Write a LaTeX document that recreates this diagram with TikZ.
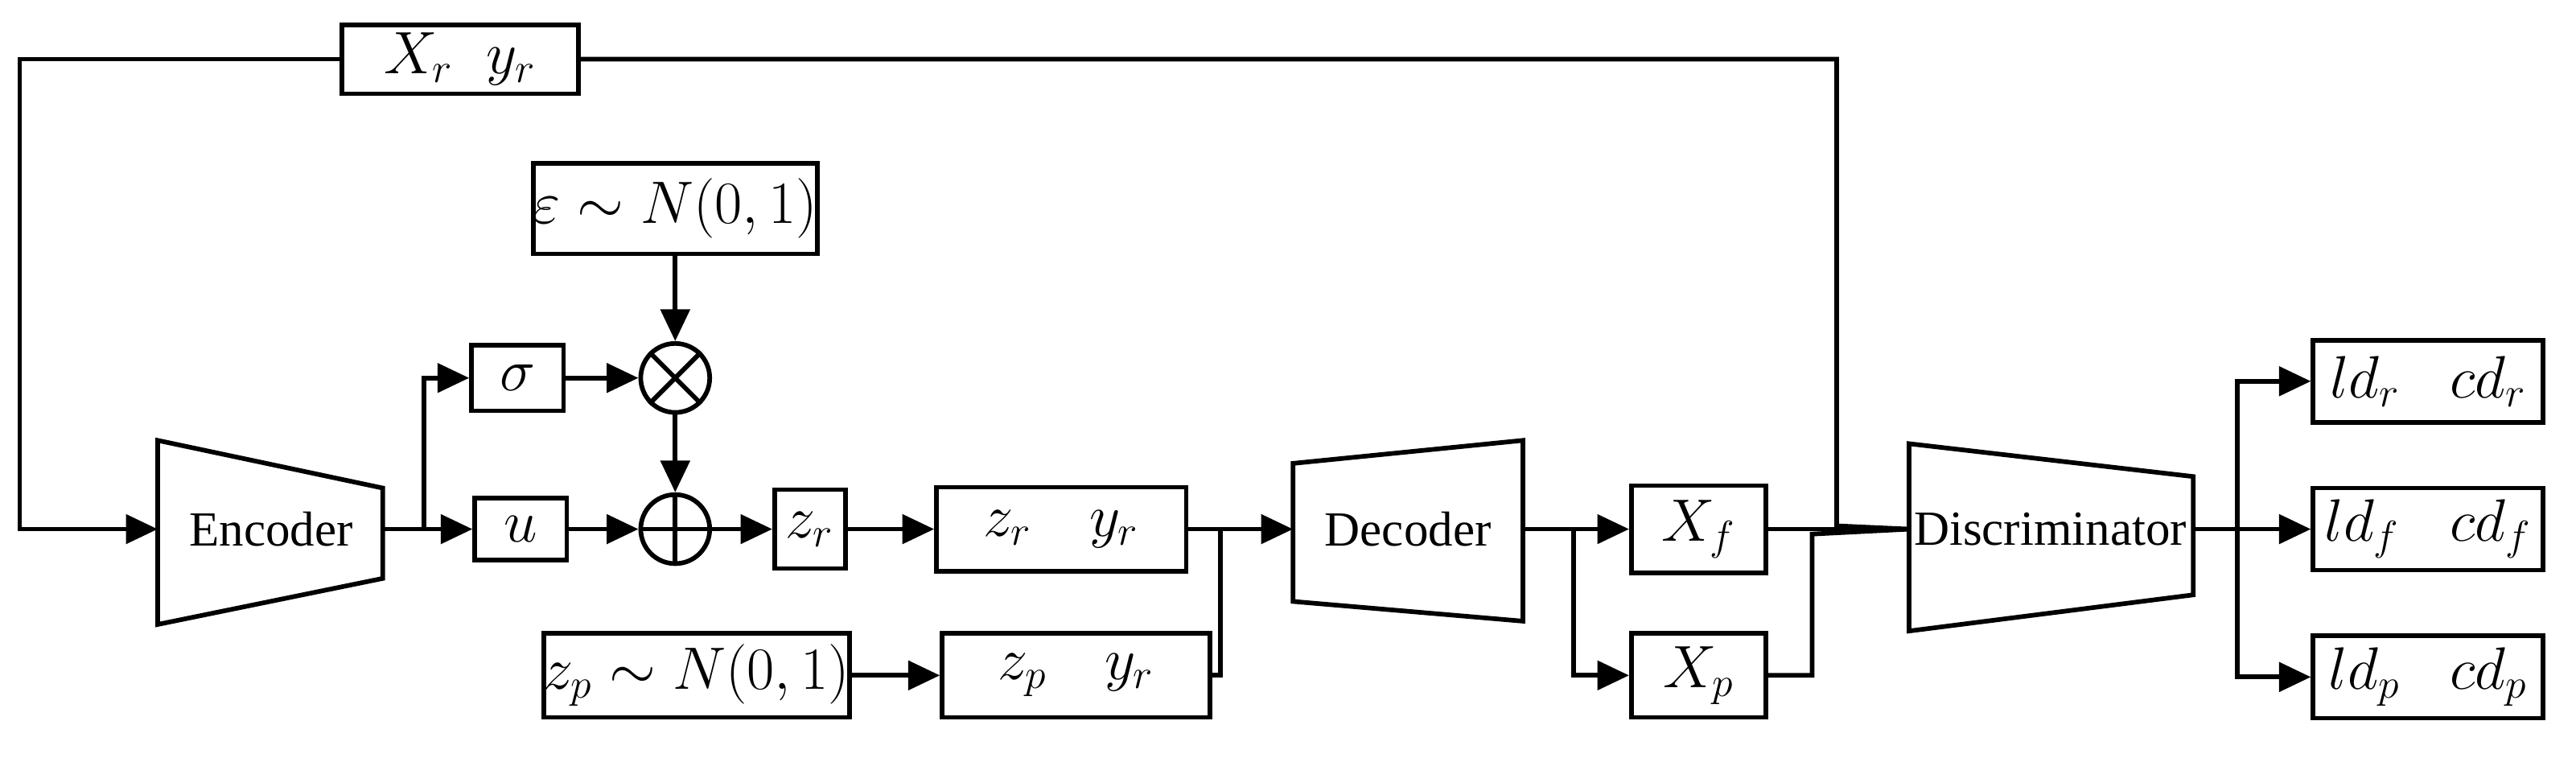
\documentclass[tikz,border=0pt]{standalone}
\usepackage{fontspec}
\newfontfamily\tms{Liberation Serif}
\usetikzlibrary{arrows.meta}
\begin{document}
\begin{tikzpicture}[x=0.02cm,y=-0.02cm,line width=1.6pt,
  box/.style={draw,inner sep=0pt,font=\fontsize{20}{24}\selectfont},
  lbl/.style={font=\tms\fontsize{17}{20}\selectfont},
  arr/.style={-{Triangle[length=11pt,width=10pt]}},
  op/.style={draw,circle,minimum size=0.84cm,inner sep=0pt}]
\useasboundingbox (0,0) rectangle (1568,461);
\node[box,minimum width=2.88cm,minimum height=0.84cm] (xy) at (280,36) {$X_r\;\;y_r$};
\node[box,minimum width=1.12cm,minimum height=0.8cm] (sig) at (315,230) {$\sigma$};
\node[box,minimum width=1.12cm,minimum height=0.76cm] (u) at (317,322) {$u$};
\node[box,minimum width=3.16cm,minimum height=1.1cm] (eps) at (411,127) {$\varepsilon\sim N(0,1)$};
\node[op] (mul) at (411,230) {};
\draw (mul.north west)--(mul.south east) (mul.north east)--(mul.south west);
\node[op] (add) at (411,322) {};
\draw (add.north)--(add.south) (add.west)--(add.east);
\node[box,minimum width=0.86cm,minimum height=0.96cm] (zr) at (493,322) {$z_r$};
\node[box,minimum width=3.04cm,minimum height=1.02cm] (zry) at (646,322) {$z_r\quad y_r$};
\node[box,minimum width=3.72cm,minimum height=1.02cm] (zpn) at (424,411) {$z_p\sim N(0,1)$};
\node[box,minimum width=3.26cm,minimum height=1.02cm] (zpy) at (655,411) {$z_p\quad y_r$};
\node[box,minimum width=1.64cm,minimum height=1.06cm] (xf) at (1034,322) {$X_f$};
\node[box,minimum width=1.64cm,minimum height=1.02cm] (xp) at (1034,411) {$X_p$};
\node[box,minimum width=2.8cm,minimum height=1.0cm] (ldr) at (1478,232) {$ld_r\;\;\;cd_r$};
\node[box,minimum width=2.8cm,minimum height=1.0cm] (ldf) at (1478,322) {$ld_f\;\;\;cd_f$};
\node[box,minimum width=2.8cm,minimum height=1.0cm] (ldp) at (1478,412) {$ld_p\;\;\;cd_p$};
% trapezoids
\draw (96,268)--(233,297)--(233,352)--(96,380)--cycle;
\node[lbl] (enc) at (165,322) {Encoder};
\coordinate (encin) at (96,322); \coordinate (encout) at (233,322);
\draw (787,282)--(927,268)--(927,378)--(787,366)--cycle;
\node[lbl] (dec) at (857,322) {Decoder};
\coordinate (decin) at (787,322); \coordinate (decout) at (927,322);
\draw (1162,270)--(1335,290)--(1335,362)--(1162,384)--cycle;
\node[lbl] (dis) at (1248,322) {Discriminator};
\coordinate (disin) at (1162,322); \coordinate (disout) at (1335,322);
% connectors
\coordinate (c1) at (12,36); \coordinate (c2) at (1118,36);
\draw[arr] (xy.west)--(c1)--(c1|-encin)--(encin);
\draw (xy.east)--(c2)--(1118,320)--(disin);
\coordinate (s1) at (258,322);
\draw[arr] (encout)--(s1)|-(sig.west);
\draw[arr] (s1)--(u.west);
\draw[arr] (sig)--(mul);
\draw[arr] (eps)--(mul);
\draw[arr] (mul)--(add);
\draw[arr] (u)--(add);
\draw[arr] (add)--(zr);
\draw[arr] (zr)--(zry);
\draw[arr] (zry.east)--(decin);
\coordinate (j1) at (743,322);
\draw (zpy.east)-|(j1);
\draw[arr] (zpn)--(zpy);
\coordinate (s2) at (958,322);
\draw[arr] (decout)--(xf.west);
\draw[arr] (s2)|-(xp.west);
\draw (xf.east)--(disin);
\draw (xp.east)-|(1103,325)--(disin);
\coordinate (s3) at (1362,322);
\draw (disout)--(s3);
\draw[arr] (s3)|-(ldr.west);
\draw[arr] (s3)--(ldf.west);
\draw[arr] (s3)|-(ldp.west);
\end{tikzpicture}
\end{document}
